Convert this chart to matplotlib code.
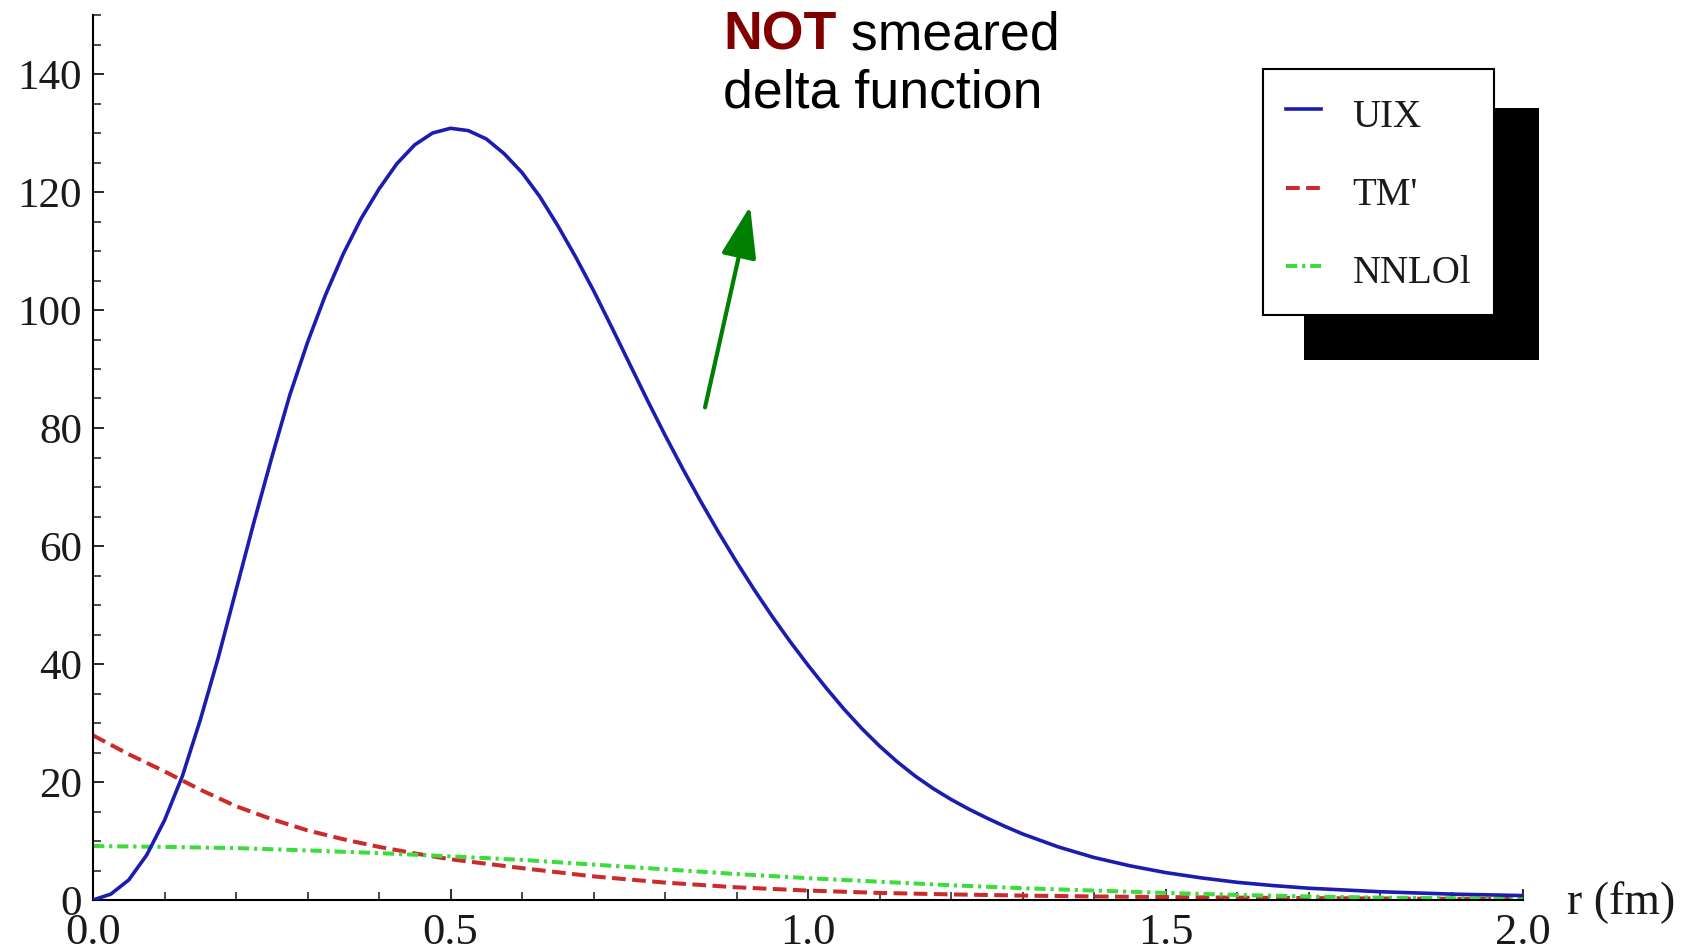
import matplotlib
matplotlib.use('Agg')
import matplotlib.pyplot as plt
from matplotlib.patches import Rectangle
from matplotlib.transforms import IdentityTransform
from matplotlib.ticker import MultipleLocator, FixedLocator
import numpy as np

# UIX three-body curve
r_uix = [0, .025, .05, .075, .1, .125, .15, .175, .2, .225, .25, .275, .3, .325,
         .35, .375, .4, .425, .45, .475, .5, .525, .55, .575, .6, .625, .65, .675,
         .7, .725, .75, .775, .8, .825, .85, .875, .9, .925, .95, .975, 1.0, 1.025,
         1.05, 1.075, 1.1, 1.125, 1.15, 1.175, 1.2, 1.225, 1.25, 1.275, 1.3, 1.35,
         1.4, 1.45, 1.5, 1.55, 1.6, 1.65, 1.7, 1.8, 1.9, 2.0]
v_uix = [0, 1.0, 3.4, 7.6, 13.5, 21.0, 30.5, 41.0, 52.5, 64.0, 75.0, 85.5, 94.5,
         102.5, 109.5, 115.5, 120.5, 124.8, 128.0, 130.0, 130.8, 130.4, 129.0,
         126.5, 123.3, 119.2, 114.3, 109.0, 103.3, 97.2, 91.0, 84.8, 78.8, 73.05,
         67.55, 62.3, 57.3, 52.55, 48.05, 43.8, 39.8, 36.0, 32.4, 29.1, 26.1, 23.4,
         21.0, 18.9, 17.05, 15.4, 13.9, 12.5, 11.2, 9.0, 7.2, 5.8, 4.65, 3.75, 3.0,
         2.45, 2.0, 1.4, 1.0, 0.75]

# TM' curve
r_tm = [0, .05, .1, .15, .2, .25, .3, .35, .4, .45, .5, .6, .7, .8, .9, 1.0,
        1.1, 1.2, 1.3, 1.4, 1.5, 1.6, 1.7, 1.8, 1.9, 2.0]
v_tm = [27.9, 24.7, 21.8, 18.7, 15.9, 13.7, 11.8, 10.3, 9.0, 7.9, 6.9, 5.4, 4.0,
        2.95, 2.15, 1.6, 1.2, 0.95, 0.75, 0.6, 0.5, 0.4, 0.32, 0.26, 0.2, 0.16]

# NNLOl curve
r_nnlo = [0, .1, .2, .3, .4, .5, .6, .7, .8, .9, 1.0, 1.1, 1.2, 1.3, 1.4, 1.5,
          1.6, 1.7, 1.8, 1.9, 2.0]
v_nnlo = [9.15, 9.0, 8.8, 8.4, 7.95, 7.4, 6.8, 6.0, 5.2, 4.4, 3.7, 3.1, 2.5, 2.0,
          1.6, 1.2, 0.85, 0.6, 0.4, 0.3, 0.2]

x_ticks = [0.0, 0.5, 1.0, 1.5, 2.0]
x_labels = ['0.0', '0.5', '1.0', '1.5', '2.0']
y_ticks = [0, 20, 40, 60, 80, 100, 120, 140]

serif = ['Liberation Serif', 'DejaVu Serif']
sans = ['Liberation Sans', 'DejaVu Sans']

W, H = 1689, 952
fig = plt.figure(figsize=(W / 100, H / 100), dpi=100)
ax = fig.add_axes([93 / W, 1 - 900 / H, (1523 - 93) / W, (900 - 15) / H])

l1, = ax.plot(r_uix, v_uix, color='#1c1cb0', lw=2.6, label='UIX', zorder=3)
l2, = ax.plot(r_tm, v_tm, color='#cc2b2b', lw=2.9, ls=(0, (3.4, 1.6)), label="TM'", zorder=2)
l3, = ax.plot(r_nnlo, v_nnlo, color='#3ddc3d', lw=2.9, ls=(0, (2.8, 1.2, 0.8, 1.2)),
              label='NNLOl', zorder=2)

ax.set_xlim(0, 2.0)
ax.set_ylim(0, 150)
for side in ('top', 'right'):
    ax.spines[side].set_visible(False)
for side in ('left', 'bottom'):
    ax.spines[side].set_linewidth(1.5)

ax.xaxis.set_major_locator(FixedLocator(x_ticks))
ax.set_xticklabels(x_labels)
ax.xaxis.set_minor_locator(MultipleLocator(0.1))
ax.yaxis.set_major_locator(FixedLocator(y_ticks))
ax.yaxis.set_minor_locator(MultipleLocator(5))
ax.tick_params(which='major', direction='in', length=8, width=1.3, colors='#1a1a1a')
ax.tick_params(which='minor', direction='in', length=5.5, width=1.1, colors='#1a1a1a')
ax.tick_params(axis='x', which='major', pad=9)
ax.tick_params(axis='y', which='major', pad=8)
for lab in ax.get_xticklabels():
    lab.set_fontfamily(serif)
    lab.set_fontsize(32)
for lab in ax.get_yticklabels():
    lab.set_fontfamily(serif)
    lab.set_fontsize(31)

fig.text(1567 / W, 1 - 903 / H, 'r (fm)', fontsize=33, family=serif,
         color='#1a1a1a', va='center', ha='left')

# legend with a solid black drop shadow
leg = fig.legend(handles=[l1, l2, l3], loc='upper left',
                 bbox_to_anchor=(1263 / W, 1 - 69 / H), borderaxespad=0,
                 prop={'family': serif, 'size': 28}, fancybox=False,
                 edgecolor='black', framealpha=1, handlelength=0.9,
                 handleheight=1.3, handletextpad=0.8, labelspacing=0.9,
                 borderpad=0.6)
leg.get_frame().set_linewidth(1.5)
for t in leg.get_texts():
    t.set_color('#1a1a1a')

fig.canvas.draw()
bb = leg.get_window_extent(fig.canvas.get_renderer())
shadow = Rectangle((bb.x0 + 41, bb.y0 - 45), bb.width + 4, bb.height + 6,
                   transform=IdentityTransform(), facecolor='black',
                   edgecolor='none', zorder=4)
fig.add_artist(shadow)

# note and arrow
t_not = fig.text(723 / W, 1 - 49 / H, 'NOT', fontsize=38.6, fontweight='bold',
                 color='#800000', family=sans, va='baseline', ha='left')
ax.annotate(' smeared', xy=(1, 0), xycoords=t_not, va='bottom', ha='left',
            fontsize=38.6, family=sans, color='black', annotation_clip=False)
fig.text(723 / W, 1 - 107 / H, 'delta function', fontsize=38.6, family=sans,
         color='black', va='baseline', ha='left')

ax.annotate('', xy=(0.919, 117.6), xytext=(0.856, 83.5),
            arrowprops=dict(arrowstyle='-|>,head_length=1.6,head_width=0.55',
                            color='#008000', lw=3, mutation_scale=20,
                            shrinkA=0, shrinkB=0),
            annotation_clip=False)

fig.savefig('out.png', dpi=100)
